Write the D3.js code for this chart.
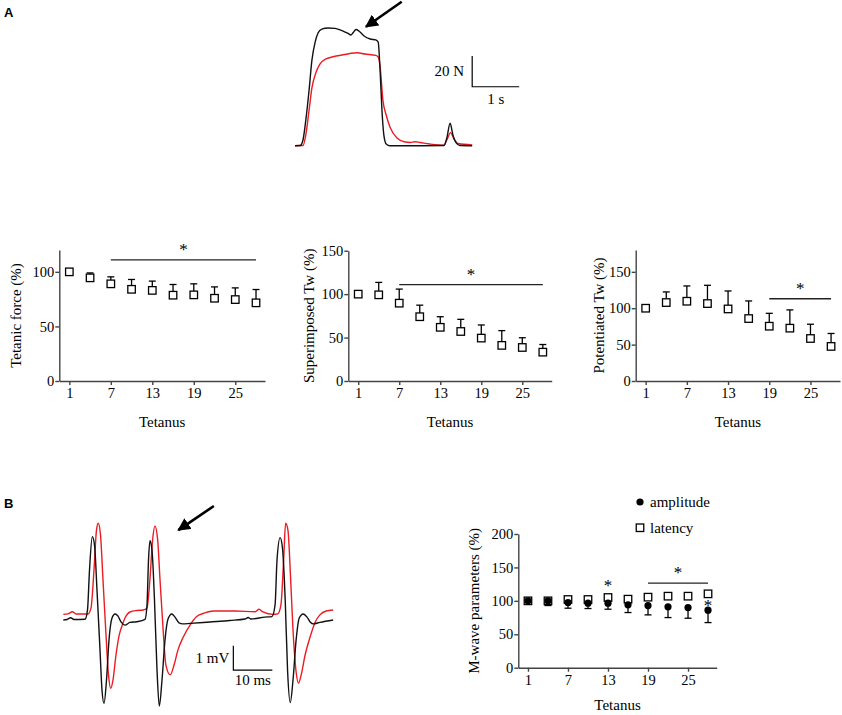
<!DOCTYPE html>
<html>
<head>
<meta charset="utf-8">
<script src="https://cdn.jsdelivr.net/npm/d3@7"></script>
<style>
  body { margin: 0; background: #fff; }
  text { font-family: "Liberation Serif", "Times New Roman", serif; fill: #000; }
  .axis path, .axis line { stroke: #444; stroke-width: 1.4; }
</style>
</head>
<body>
<div id="chart"></div>
<script>
// ---- data ----
var tetanus = [1, 4, 7, 10, 13, 16, 19, 22, 25, 28];
var xTicks = [1, 7, 13, 19, 25];

var tetanicMean = [100, 94.5, 89, 84, 83, 78.6, 78.9, 75.8, 74.6, 71.6];
var tetanicErr = [0, 4.5, 6.4, 9, 8.5, 9.8, 10.1, 10.4, 10.7, 12.2];
var superMean = [100, 99.2, 89.6, 74, 61.8, 57, 49.4, 41, 38.6, 33.2];
var superErr = [0, 14.3, 16.2, 13.3, 12.2, 14, 15.1, 17, 11.2, 8.8];
var potMean = [100, 107.8, 109.6, 106.4, 99, 85.8, 75.3, 72.6, 58.4, 47.5];
var potErr = [0, 14.6, 21, 25.1, 24.7, 24.2, 17.7, 25.1, 19.6, 17.8];
var ampMean = [100, 100, 97.5, 96.5, 96.5, 94, 93, 91, 90, 86];
var ampErr = [0, 7, 8.5, 8, 9, 11.5, 14, 16, 16, 18.5];
var latMean = [100, 100, 102, 102, 105, 102.5, 105.5, 107, 107, 110.5];

// significance bars: [from, to, level]
var tetanicSig = [7, 28, 111];
var superSig = [7, 28, 111];
var potSig = [19, 28, 113];
var mwaveSig = [19, 28, 126.5];
// single asterisks: [tetanus, level]
var mwaveStars = [[13, 127], [28, 97]];

// force traces (time s, force N)
var forceBlackT = [0, 0.11, 0.17, 0.23, 0.3, 0.36, 0.43, 0.49, 0.57, 0.7, 0.85, 1.0, 1.13, 1.19, 1.23, 1.3, 1.36, 1.47, 1.6, 1.72, 1.77, 1.81, 1.85, 1.89, 1.94, 2.02, 2.66, 3.17, 3.23, 3.3, 3.36, 3.43, 3.51, 3.77];
var forceBlackF = [0, 0.1, 3.7, 16.7, 36.3, 55.8, 67.6, 73.4, 76, 76.7, 76.4, 75, 73.1, 72.1, 73.4, 75.7, 74.7, 71.5, 69.5, 68.9, 67.5, 49.3, 23.3, 7, 1.1, 0, 0, 0.1, 5, 14.6, 7, 1.8, 0.1, 0];
var forceRedT = [0, 0.17, 0.23, 0.3, 0.36, 0.45, 0.53, 0.66, 0.83, 1.0, 1.17, 1.32, 1.49, 1.72, 1.77, 1.81, 1.87, 1.94, 2.02, 2.17, 2.34, 2.45, 2.55, 2.66, 2.87, 3.17, 3.23, 3.31, 3.38, 3.47, 3.77];
var forceRedF = [0, 0.1, 7, 23.3, 37.6, 48, 53.2, 56.5, 58.1, 59.1, 60.1, 60.6, 59.7, 58.8, 57.8, 51.9, 29.8, 20, 12.2, 5, 2.4, 2.1, 2.6, 2.1, 1.1, 0.3, 3.7, 8.5, 4.4, 1.4, 0.5];

// M-wave traces (time ms, voltage mV)
var emgBlackT = [0, 0.95, 1.9, 2.74, 5.56, 6.2, 6.72, 7.44, 8.0, 8.64, 9.41, 9.92, 10.44, 11.08, 11.72, 12.49, 13.26, 14.03, 14.8, 15.82, 17.1, 18.82, 20.95, 21.46, 21.85, 22.23, 22.74, 23.38, 24.03, 24.62, 25.31, 26.08, 26.85, 27.8, 28.64, 29.67, 30.62, 32.5, 37.6, 42.7, 46.6, 47.4, 48.1, 51.7, 53.5, 54.3, 54.8, 55.6, 56.2, 56.9, 57.5, 58.2, 58.9, 59.7, 60.5, 61.5, 62.5, 63.3, 64.1, 65.8, 69.2];
var emgBlackV = [0, 0.02, 0.09, 0.02, 0.03, 0.41, 2.06, 3.43, 3.09, 1.23, -1.23, -2.88, -3.43, -2.47, -0.82, 0.08, 0.25, 0.16, -0.08, -0.21, -0.1, -0.07, 0.03, 0.62, 2.47, 3.26, 2.88, 0.82, -2.06, -3.54, -2.47, -0.82, 0.04, 0.25, 0.12, -0.12, -0.16, -0.14, -0.08, -0.02, 0.04, 0.1, 0.04, 0.12, 0.14, 0.62, 2.47, 3.39, 2.96, 0.82, -2.06, -3.4, -2.47, -0.82, 0.08, 0.25, 0.12, -0.08, -0.16, -0.1, 0];
var emgRedT = [0, 1.2, 2.31, 3.26, 6.33, 7.1, 7.87, 8.51, 8.97, 9.54, 10.18, 10.95, 11.59, 12.15, 12.74, 13.51, 14.28, 14.97, 15.82, 17.1, 18.9, 20.5, 21.46, 22.2, 22.9, 23.5, 24.2, 24.8, 25.6, 26.3, 27.4, 28.4, 29.4, 30.8, 32.5, 34.2, 36.3, 38.5, 44, 49.2, 50.2, 51.2, 53.8, 55.0, 55.8, 56.5, 57.0, 57.6, 58.3, 58.9, 59.7, 60.3, 61.0, 62.0, 63.3, 64.6, 65.8, 67.4, 69.2];
var emgRedV = [0.23, 0.25, 0.34, 0.25, 0.25, 0.49, 2.06, 3.7, 3.98, 3.5, 1.65, -0.62, -2.26, -2.81, -2.47, -1.44, -0.66, -0.28, 0.08, 0.33, 0.39, 0.41, 0.49, 1.65, 3.29, 3.87, 3.29, 1.65, -0.41, -1.85, -2.26, -1.85, -1.23, -0.69, -0.21, 0.14, 0.29, 0.37, 0.37, 0.34, 0.44, 0.33, 0.23, 0.25, 0.62, 2.47, 3.98, 3.7, 1.65, -0.41, -2.14, -2.6, -2.26, -1.44, -0.69, -0.08, 0.21, 0.37, 0.41];

var RED = "#ec1c24";
var SERIF = "Liberation Serif, Times New Roman, serif";

var svg = d3.select("#chart")
    .append("svg")
    .attr("width", 842)
    .attr("height", 715);

svg.append("defs").append("marker")
    .attr("id", "head")
    .attr("viewBox", "0 0 10 10")
    .attr("refX", 9)
    .attr("refY", 5)
    .attr("markerWidth", 5)
    .attr("markerHeight", 5)
    .attr("markerUnits", "strokeWidth")
    .attr("orient", "auto")
    .append("path")
    .attr("d", "M0,0 L10,5 L0,10 z")
    .attr("fill", "#000");

// panel letters
svg.append("text").attr("x", 4).attr("y", 17)
    .style("font-family", "Liberation Sans, Arial, sans-serif")
    .style("font-weight", "bold").style("font-size", "13px").text("A");
svg.append("text").attr("x", 4).attr("y", 508)
    .style("font-family", "Liberation Sans, Arial, sans-serif")
    .style("font-weight", "bold").style("font-size", "13px").text("B");

// ---- force traces ----
var fx = d3.scaleLinear().domain([0, 1]).range([295, 342]);
var fy = d3.scaleLinear().domain([0, 20]).range([145.7, 115]);
var forceLine = d3.line()
    .x(function (d) { return fx(d[0]); })
    .y(function (d) { return fy(d[1]); })
    .curve(d3.curveMonotoneX);

svg.append("path")
    .attr("d", forceLine(d3.zip(forceRedT, forceRedF)))
    .attr("fill", "none").attr("stroke", RED).attr("stroke-width", 1.4);
svg.append("path")
    .attr("d", forceLine(d3.zip(forceBlackT, forceBlackF)))
    .attr("fill", "none").attr("stroke", "#111").attr("stroke-width", 1.4);

// scale bar 20 N / 1 s
svg.append("path")
    .attr("d", "M" + fx(3.77) + "," + fy(58.4) + "V" + fy(38.4) + "H" + fx(4.77))
    .attr("fill", "none").attr("stroke", "#000").attr("stroke-width", 1.2);
svg.append("text").attr("x", fx(3.77) - 8).attr("y", fy(48.4) + 5)
    .attr("text-anchor", "end").style("font-size", "15px").text("20 N");
svg.append("text").attr("x", fx(4.27)).attr("y", fy(38.4) + 17)
    .attr("text-anchor", "middle").style("font-size", "15px").text("1 s");

svg.append("line")
    .attr("x1", fx(2.27)).attr("y1", fy(93.8))
    .attr("x2", fx(1.51)).attr("y2", fy(77.5))
    .attr("stroke", "#000").attr("stroke-width", 2.6)
    .attr("marker-end", "url(#head)");

// ---- M-wave traces ----
var ex = d3.scaleLinear().domain([0, 10]).range([63.3, 102.3]);
var ey = d3.scaleLinear().domain([0, 1]).range([620, 595.7]);
var emgLine = d3.line()
    .x(function (d) { return ex(d[0]); })
    .y(function (d) { return ey(d[1]); })
    .curve(d3.curveMonotoneX);

svg.append("path")
    .attr("d", emgLine(d3.zip(emgRedT, emgRedV)))
    .attr("fill", "none").attr("stroke", RED).attr("stroke-width", 1.4);
svg.append("path")
    .attr("d", emgLine(d3.zip(emgBlackT, emgBlackV)))
    .attr("fill", "none").attr("stroke", "#111").attr("stroke-width", 1.4);

svg.append("path")
    .attr("d", "M" + ex(43.6) + "," + ey(-1.06) + "V" + ey(-2.06) + "H" + ex(53.6))
    .attr("fill", "none").attr("stroke", "#000").attr("stroke-width", 1.2);
svg.append("text").attr("x", ex(43.6) - 4).attr("y", ey(-1.56) + 5)
    .attr("text-anchor", "end").style("font-size", "15px").text("1 mV");
svg.append("text").attr("x", ex(48.6)).attr("y", ey(-2.06) + 15)
    .attr("text-anchor", "middle").style("font-size", "15px").text("10 ms");

svg.append("line")
    .attr("x1", ex(38.6)).attr("y1", ey(4.69))
    .attr("x2", ex(29.5)).attr("y2", ey(3.7))
    .attr("stroke", "#000").attr("stroke-width", 2.6)
    .attr("marker-end", "url(#head)");

// ---- summary charts ----
function styleAxis(sel) {
    sel.attr("font-family", null).attr("font-size", null);
    sel.selectAll("text")
        .style("font-family", SERIF)
        .style("font-size", "14.5px")
        .attr("fill", "#000");
}

function makeChart(o) {
    var g = svg.append("g");
    var x = d3.scaleLinear().domain([-0.45, 29.3]).range([o.left, o.right]);
    var y = d3.scaleLinear().domain([0, o.yMax]).range([o.bottom, o.top]);

    g.append("g").attr("class", "axis")
        .attr("transform", "translate(0," + o.bottom + ")")
        .call(d3.axisBottom(x).tickValues(xTicks).tickSize(4).tickSizeOuter(0).tickPadding(3))
        .call(styleAxis);
    g.append("g").attr("class", "axis")
        .attr("transform", "translate(" + o.left + ",0)")
        .call(d3.axisLeft(y).tickValues(o.yTicks).tickSize(4).tickSizeOuter(0).tickPadding(1))
        .call(styleAxis);

    g.append("text")
        .attr("transform", "translate(" + o.labelX + "," + ((o.top + o.bottom) / 2) + ") rotate(-90)")
        .attr("text-anchor", "middle").attr("dy", "0.35em")
        .style("font-size", "15px").text(o.yLabel);
    g.append("text")
        .attr("x", (o.left + o.right) / 2).attr("y", o.bottom + o.titleGap)
        .attr("text-anchor", "middle").style("font-size", "15px").text("Tetanus");

    // significance bar
    if (o.sig) {
        g.append("line")
            .attr("x1", x(o.sig[0])).attr("x2", x(o.sig[1]))
            .attr("y1", y(o.sig[2])).attr("y2", y(o.sig[2]))
            .attr("stroke", "#222").attr("stroke-width", 1.3);
        g.append("text")
            .attr("x", x((o.sig[0] + o.sig[1]) / 2)).attr("y", y(o.sig[2]) - 5)
            .attr("text-anchor", "middle").style("font-size", "17px").text("*");
    }
    return { g: g, x: x, y: y };
}

function squaresWithUpperErr(c, mean, err) {
    var s = 7.5;
    var pts = d3.zip(tetanus, mean, err);
    var eb = c.g.selectAll(".eb").data(pts.filter(function (d) { return d[2] > 0; }))
        .enter().append("g");
    eb.append("line")
        .attr("x1", function (d) { return c.x(d[0]); })
        .attr("x2", function (d) { return c.x(d[0]); })
        .attr("y1", function (d) { return c.y(d[1]) - s / 2; })
        .attr("y2", function (d) { return c.y(d[1] + d[2]); })
        .attr("stroke", "#000").attr("stroke-width", 1.3);
    eb.append("line")
        .attr("x1", function (d) { return c.x(d[0]) - 3.5; })
        .attr("x2", function (d) { return c.x(d[0]) + 3.5; })
        .attr("y1", function (d) { return c.y(d[1] + d[2]); })
        .attr("y2", function (d) { return c.y(d[1] + d[2]); })
        .attr("stroke", "#000").attr("stroke-width", 1.3);
    c.g.selectAll(".sq").data(pts).enter().append("rect")
        .attr("x", function (d) { return c.x(d[0]) - s / 2; })
        .attr("y", function (d) { return c.y(d[1]) - s / 2; })
        .attr("width", s).attr("height", s)
        .attr("fill", "#fff").attr("stroke", "#000").attr("stroke-width", 1.3);
}

var c1 = makeChart({ left: 59.3, right: 265, top: 250, bottom: 381, yMax: 120, titleGap: 46,
    yTicks: [0, 50, 100], yLabel: "Tetanic force (%)", labelX: 16, sig: tetanicSig });
squaresWithUpperErr(c1, tetanicMean, tetanicErr);

var c2 = makeChart({ left: 348.3, right: 551.7, top: 250.7, bottom: 381, yMax: 150, titleGap: 46,
    yTicks: [0, 50, 100, 150], yLabel: "Superimposed Tw (%)", labelX: 308.5, sig: superSig });
squaresWithUpperErr(c2, superMean, superErr);

var c3 = makeChart({ left: 635.7, right: 840, top: 250, bottom: 381, yMax: 180, titleGap: 46,
    yTicks: [0, 50, 100, 150], yLabel: "Potentiated Tw (%)", labelX: 598.5, sig: potSig });
squaresWithUpperErr(c3, potMean, potErr);

var c4 = makeChart({ left: 518.3, right: 716.7, top: 534, bottom: 667.7, yMax: 200, titleGap: 42,
    yTicks: [0, 50, 100, 150, 200], yLabel: "M-wave parameters (%)", labelX: 474, sig: mwaveSig });

// amplitude error bars (downward)
var amp = d3.zip(tetanus, ampMean, ampErr).filter(function (d) { return d[2] > 0; });
var aeb = c4.g.selectAll(".aeb").data(amp).enter().append("g");
aeb.append("line")
    .attr("x1", function (d) { return c4.x(d[0]); })
    .attr("x2", function (d) { return c4.x(d[0]); })
    .attr("y1", function (d) { return c4.y(d[1]); })
    .attr("y2", function (d) { return c4.y(d[1] - d[2]); })
    .attr("stroke", "#000").attr("stroke-width", 1.3);
aeb.append("line")
    .attr("x1", function (d) { return c4.x(d[0]) - 3.5; })
    .attr("x2", function (d) { return c4.x(d[0]) + 3.5; })
    .attr("y1", function (d) { return c4.y(d[1] - d[2]); })
    .attr("y2", function (d) { return c4.y(d[1] - d[2]); })
    .attr("stroke", "#000").attr("stroke-width", 1.3);

c4.g.selectAll(".lat").data(d3.zip(tetanus, latMean)).enter().append("rect")
    .attr("x", function (d) { return c4.x(d[0]) - 3.75; })
    .attr("y", function (d) { return c4.y(d[1]) - 3.75; })
    .attr("width", 7.5).attr("height", 7.5)
    .attr("fill", "#fff").attr("stroke", "#000").attr("stroke-width", 1.3);
c4.g.selectAll(".amp").data(d3.zip(tetanus, ampMean)).enter().append("circle")
    .attr("cx", function (d) { return c4.x(d[0]); })
    .attr("cy", function (d) { return c4.y(d[1]); })
    .attr("r", 3.6).attr("fill", "#000");

c4.g.selectAll(".star").data(mwaveStars).enter().append("text")
    .attr("x", function (d) { return c4.x(d[0]); })
    .attr("y", function (d) { return c4.y(d[1]) + 8; })
    .attr("text-anchor", "middle").style("font-size", "17px").text("*");

// legend
var legend = svg.append("g").attr("transform", "translate(640,502)");
legend.append("circle").attr("cx", 0).attr("cy", 0).attr("r", 3.6).attr("fill", "#000");
legend.append("text").attr("x", 10).attr("y", 5).style("font-size", "15px").text("amplitude");
legend.append("rect").attr("x", -3.75).attr("y", 22).attr("width", 7.5).attr("height", 7.5)
    .attr("fill", "#fff").attr("stroke", "#000").attr("stroke-width", 1.3);
legend.append("text").attr("x", 10).attr("y", 31).style("font-size", "15px").text("latency");
</script>
</body>
</html>
